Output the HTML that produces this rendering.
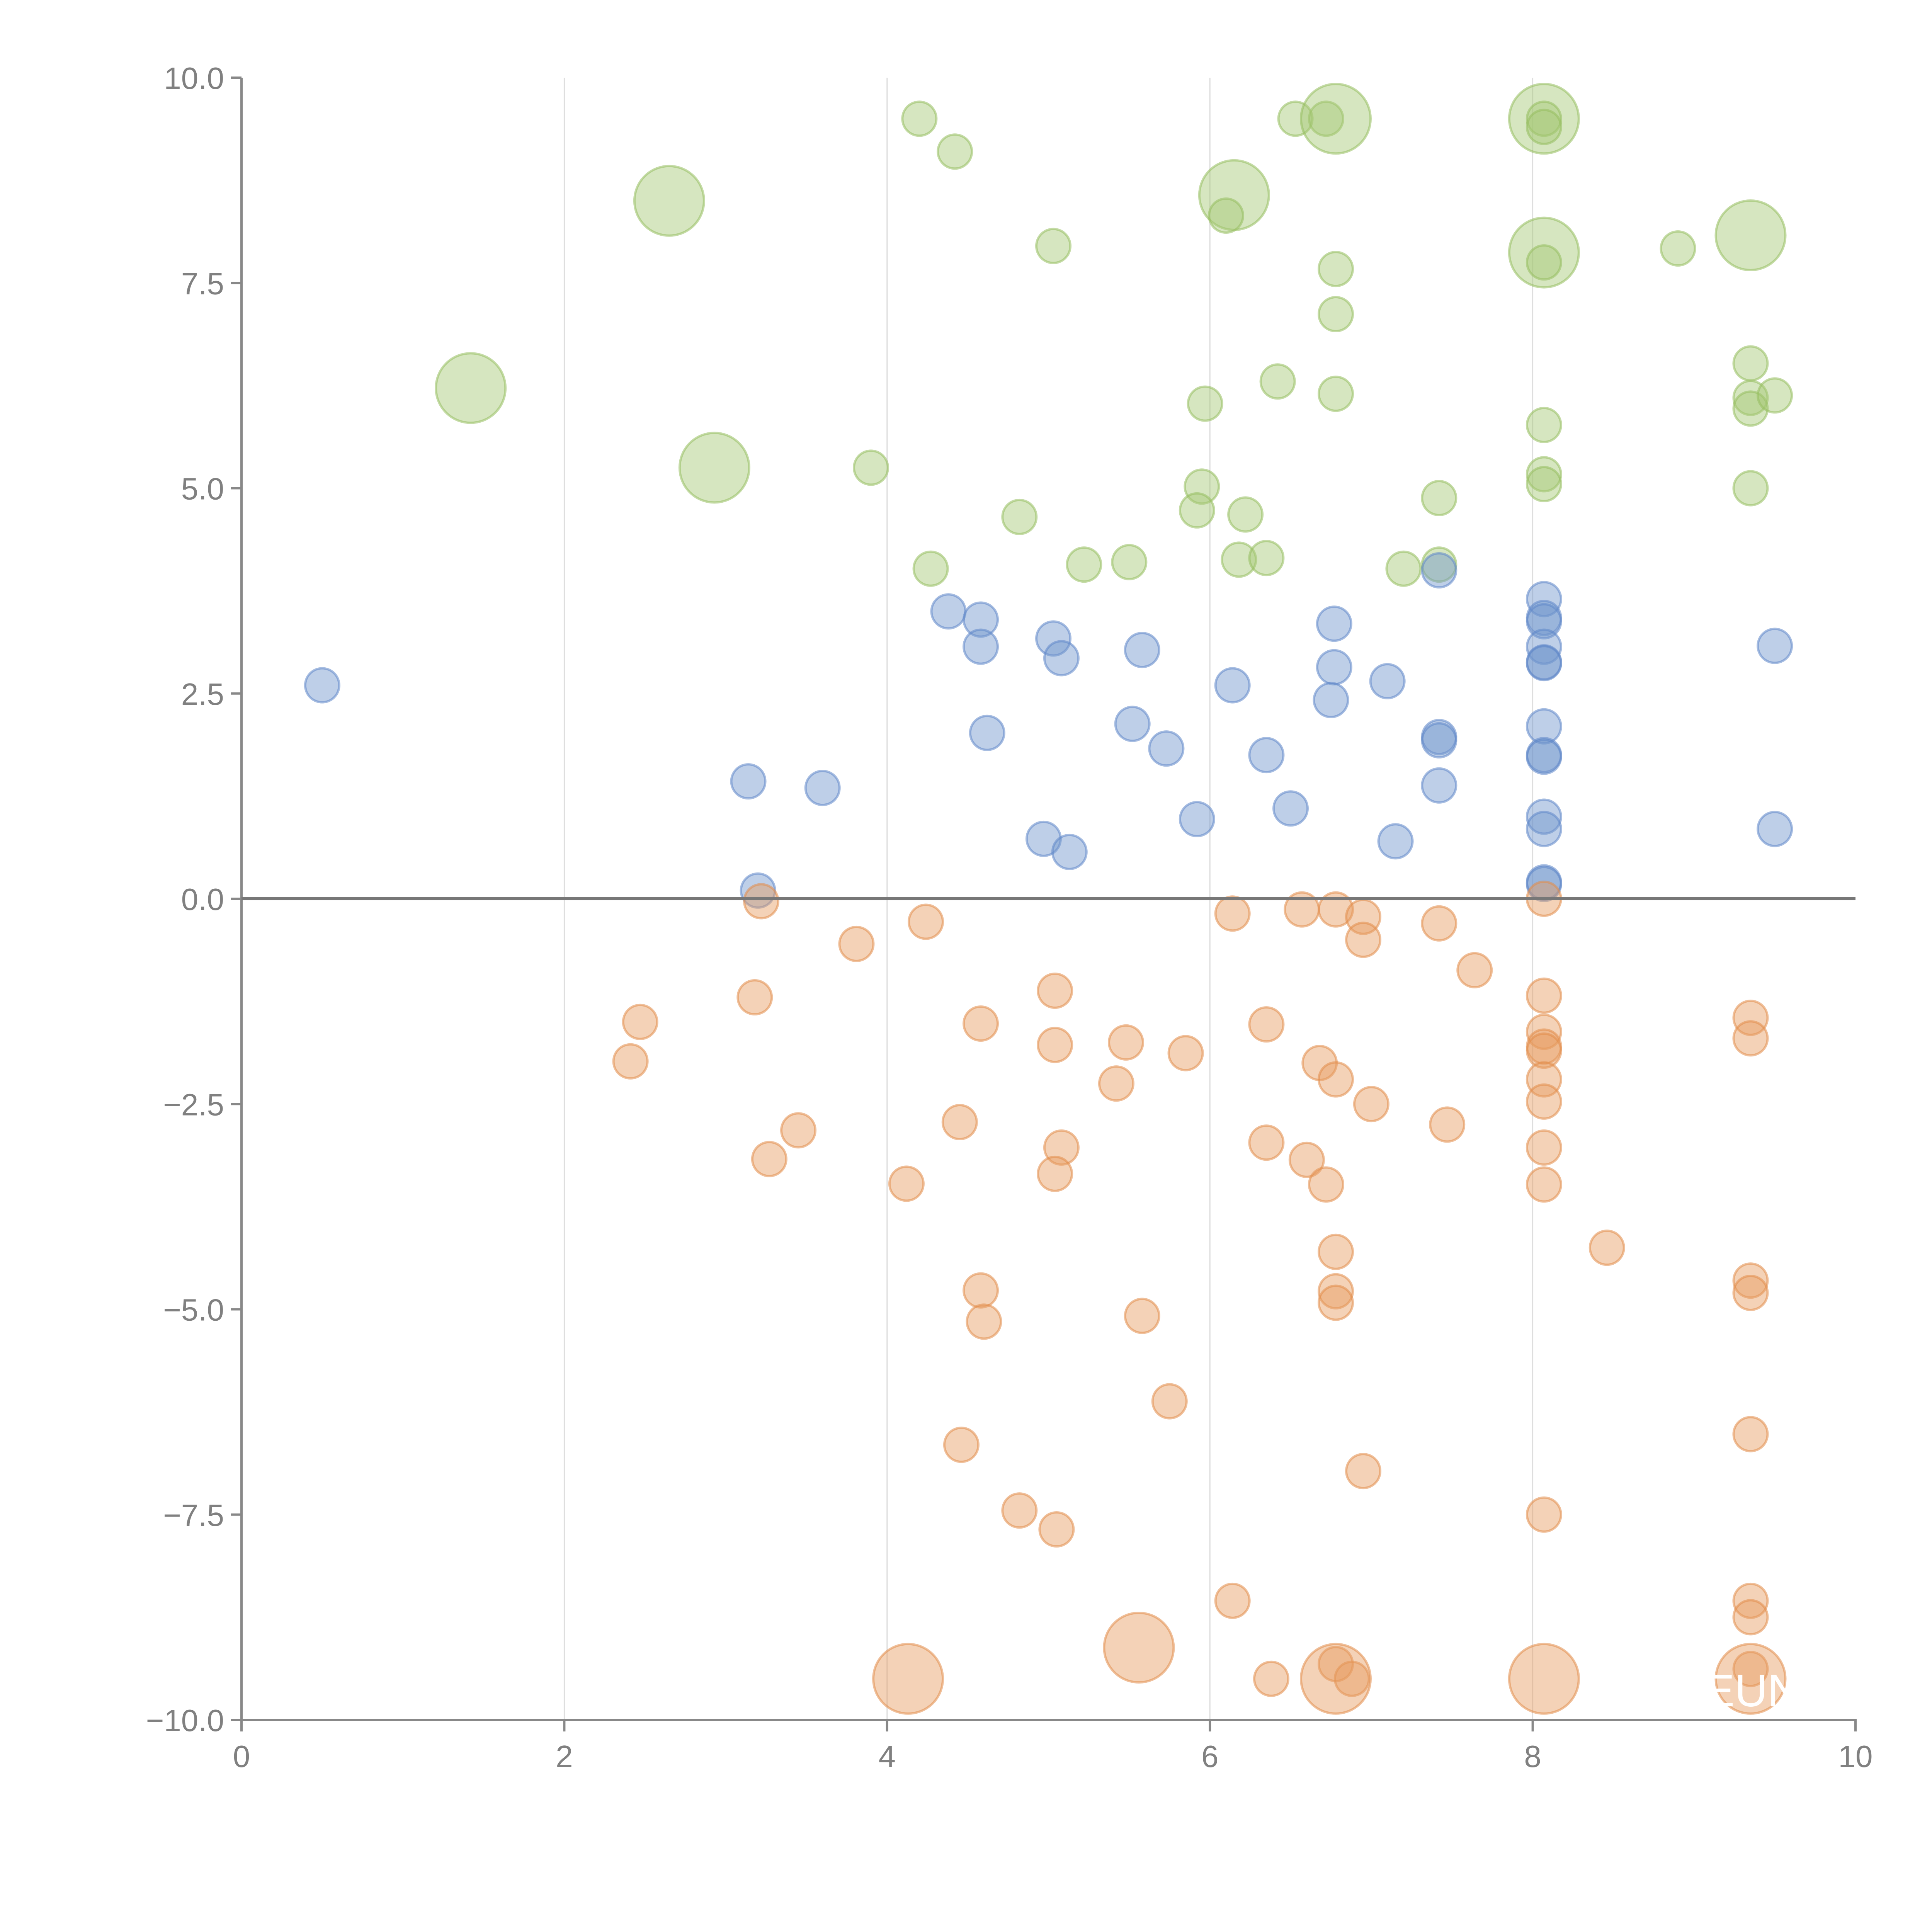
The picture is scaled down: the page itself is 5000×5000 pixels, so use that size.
<!DOCTYPE html>
<html><head><meta charset="utf-8"><style>
html,body{margin:0;padding:0;background:#fff;}
svg{display:block;font-family:"Liberation Sans",Arial,sans-serif;}
</style></head><body>
<svg id="chart" width="5000" height="5000" viewBox="0 0 5000 5000" xmlns="http://www.w3.org/2000/svg">
<rect x="0" y="0" width="5000" height="5000" fill="#fff"/>
<g id="grid"></g>
<g id="axes"></g>
<g id="marks"></g>
<text x="4535" y="4416" font-size="118" fill="#fff" text-anchor="middle">EUN</text>
</svg>
<script>
const xTicks=[0,2,4,6,8,10];
const xTickLabels=["0","2","4","6","8","10"];
const yTicks=[10,7.5,5,2.5,0,-2.5,-5,-7.5,-10];
const yTickLabels=["10.0","7.5","5.0","2.5","0.0","\u22122.5","\u22125.0","\u22127.5","\u221210.0"];
const gridX=[2,4,6,8];

const greenX=[4.2,4.42,2.65,1.42,2.93,3.9,5.03,4.27,4.82,5.22,5.5,5.97,5.95,5.92,6.22,6.18,6.35,6.42,6.53,6.72,6.78,6.15,6.1,6.78,6.78,6.78,7.2,7.42,7.42,8.07,8.07,8.07,8.07,8.07,8.07,8.07,8.07,8.9,9.35,9.35,9.35,9.35,9.5,9.35];
const greenY=[9.5,9.1,8.5,6.22,5.25,5.25,7.95,4.02,4.65,4.07,4.1,6.03,5.02,4.73,4.68,4.13,4.15,6.3,9.5,9.5,9.5,8.57,8.32,7.67,7.12,6.15,4.02,4.88,4.07,9.5,9.5,9.4,7.87,7.75,5.77,5.17,5.05,7.92,8.08,6.52,6.1,5.97,6.13,5.0];
const greenS=[1,1,2,2,2,1,1,1,1,1,1,1,1,1,1,1,1,1,1,1,2,2,1,1,1,1,1,1,1,2,1,1,2,1,1,1,1,1,2,1,1,1,1,1];

const blueX=[0.5,3.14,3.6,3.2,4.38,4.58,4.58,4.62,4.97,5.03,5.08,5.13,5.52,5.58,5.73,5.92,6.14,6.35,6.5,6.77,6.77,6.75,7.1,7.15,7.42,7.42,7.42,7.42,8.07,8.07,8.07,8.07,8.07,8.07,8.07,8.07,8.07,8.07,8.07,8.07,8.07,9.5,9.5];
const blueY=[2.6,1.43,1.35,0.1,3.5,3.4,3.07,2.02,0.73,3.17,2.93,0.57,2.13,3.03,1.83,0.97,2.6,1.75,1.1,3.35,2.82,2.42,2.65,0.7,4.0,1.97,1.93,1.38,3.65,3.42,3.38,3.07,2.88,2.87,2.1,1.75,1.73,1.0,0.85,0.2,0.18,3.08,0.85];

const orangeX=[3.22,3.18,2.47,2.41,3.45,3.27,3.81,4.24,4.12,4.45,4.58,4.58,4.6,4.46,4.82,5.04,5.04,5.08,5.04,5.05,5.42,5.48,5.58,5.75,5.85,6.14,6.35,6.35,6.14,6.38,6.57,6.6,6.68,6.72,6.78,6.78,6.78,6.78,6.78,6.95,6.95,7.0,6.95,6.78,6.88,6.78,5.56,4.13,7.42,7.47,7.64,8.07,8.07,8.07,8.07,8.07,8.07,8.07,8.07,8.07,8.07,8.07,8.46,9.35,9.35,9.35,9.35,9.35,9.35,9.35,9.35,9.35];
const orangeY=[-0.03,-1.2,-1.5,-1.98,-2.82,-3.17,-0.55,-0.28,-3.47,-2.72,-1.52,-4.77,-5.15,-6.65,-7.45,-1.12,-1.78,-3.03,-3.35,-7.68,-2.25,-1.75,-5.08,-6.12,-1.88,-0.18,-1.53,-2.97,-8.55,-9.5,-0.13,-3.18,-2.0,-3.48,-0.13,-2.2,-4.3,-4.78,-4.92,-0.22,-0.5,-2.5,-6.97,-9.32,-9.5,-9.5,-9.12,-9.5,-0.3,-2.75,-0.87,0.0,-1.18,-1.62,-1.8,-1.85,-2.2,-2.47,-3.03,-3.48,-7.5,-9.5,-4.25,-1.45,-1.7,-4.65,-4.8,-6.52,-8.55,-8.75,-9.38,-9.5];
const orangeS=[1,1,1,1,1,1,1,1,1,1,1,1,1,1,1,1,1,1,1,1,1,1,1,1,1,1,1,1,1,1,1,1,1,1,1,1,1,1,1,1,1,1,1,1,1,2,2,2,1,1,1,1,1,1,1,1,1,1,1,1,1,2,1,1,1,1,1,1,1,1,1,2];

const NS="http://www.w3.org/2000/svg";
const X0=625,X1=4802,Y0=4451,Y1=201;
function sx(v){return X0+(v-0)/(10-0)*(X1-X0);}
function sy(v){return Y0-(v+10)/20*(Y0-Y1);}
function mk(tag,attrs,parent){const e=document.createElementNS(NS,tag);for(const k in attrs)e.setAttribute(k,attrs[k]);parent.appendChild(e);return e;}
const grid=document.getElementById('grid'),axes=document.getElementById('axes'),marks=document.getElementById('marks');

gridX.forEach(v=>{
  const l=mk('line',{x1:sx(v),x2:sx(v),y1:sy(10),y2:sy(-10),stroke:'#dcdcdc','stroke-width':3},grid);
  
  
});

const ya=mk('line',{x1:X0,x2:X0,y1:Y1,y2:Y0+30,stroke:'#888','stroke-width':6},axes);


const xa=mk('line',{x1:X0-3,x2:X1+3,y1:Y0,y2:Y0,stroke:'#888','stroke-width':6},axes);



yTicks.forEach((v,i)=>{
  const t=mk('line',{x1:X0-27,x2:X0,y1:sy(v),y2:sy(v),stroke:'#888','stroke-width':6},axes);
  
  
  const tx=mk('text',{x:X0-45,y:sy(v)+29,'font-size':80,fill:'#808080','text-anchor':'end'},axes);
  tx.textContent=yTickLabels[i];
  
  
});
xTicks.forEach((v,i)=>{
  const t=mk('line',{x1:sx(v),x2:sx(v),y1:Y0,y2:Y0+30,stroke:'#888','stroke-width':6},axes);
  
  
  const tx=mk('text',{x:sx(v),y:Y0+122,'font-size':80,fill:'#808080','text-anchor':'middle'},axes);
  tx.textContent=xTickLabels[i];
  
  
});

function series(xs,ys,ss,fill,stroke,name){
  xs.forEach((x,i)=>{
    const r=(ss&&ss[i]===2)?90:44;
    const c=mk('circle',{cx:sx(x),cy:sy(ys[i]),r:r,fill:fill,stroke:stroke,'stroke-width':6},marks);
    
    
  });
}
series(greenX,greenY,greenS,'rgba(165,200,115,0.45)','rgba(150,190,95,0.55)','green-bubble');
series(blueX,blueY,null,'rgba(110,148,205,0.45)','rgba(95,135,200,0.55)','blue-bubble');
series(orangeX,orangeY,orangeS,'rgba(230,155,95,0.45)','rgba(225,140,75,0.55)','orange-bubble');

const zl=mk('line',{x1:sx(0),x2:sx(10),y1:sy(0),y2:sy(0),stroke:'#777','stroke-width':8},axes);


marks.parentNode.appendChild(axes);
</script>
</body></html>
